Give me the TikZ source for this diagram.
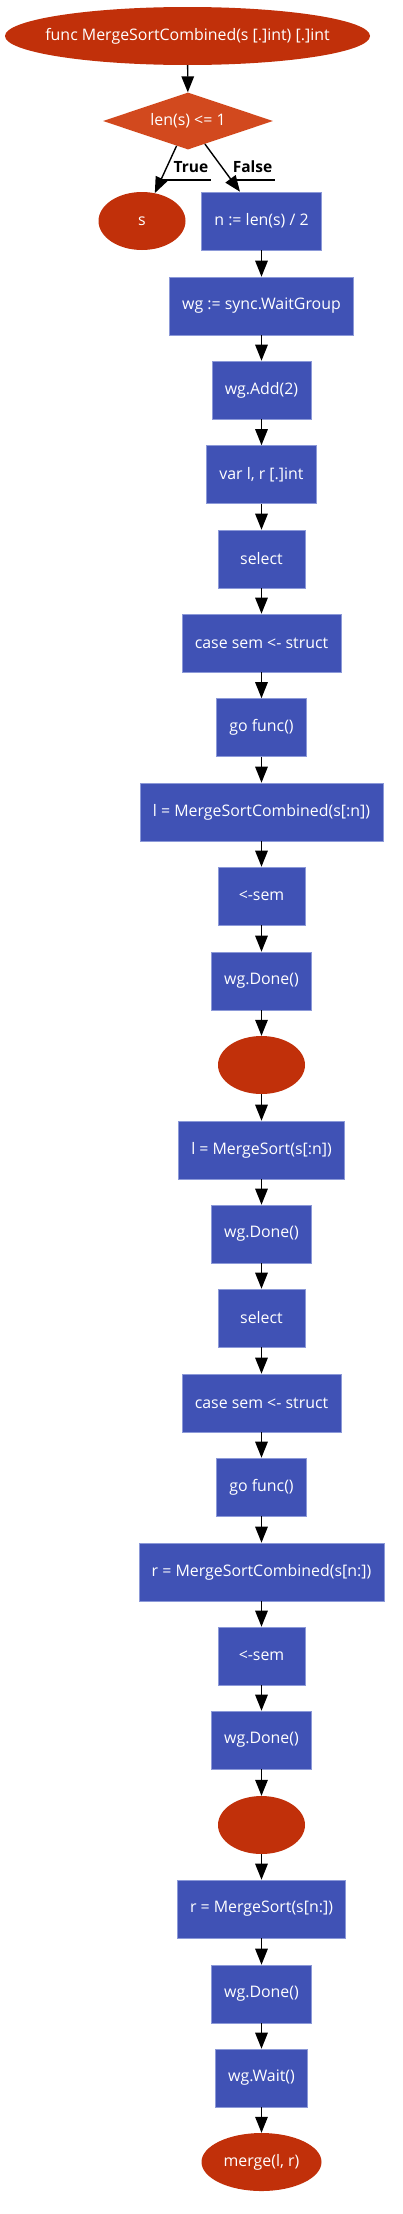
\documentclass[tikz,border=0pt]{standalone}
\usepackage{fontspec}
\setmainfont{Open Sans}
\usetikzlibrary{shapes.geometric,arrows.meta}
\definecolor{endred}{HTML}{C1300A}
\definecolor{condred}{HTML}{D2491E}
\definecolor{stepblue}{HTML}{4052B5}
\definecolor{stepline}{HTML}{8C99D8}

\begin{document}
\begin{tikzpicture}[x=1pt,y=-1pt,font=\fontsize{15.9}{18}\selectfont,
  stepbox/.style={rectangle,fill=stepblue,draw=stepline,line width=0.6pt,text=white,minimum width=87pt,minimum height=58pt,inner xsep=12.75pt},
  endnode/.style={ellipse,fill=endred,text=white,minimum width=87pt,minimum height=58pt,inner sep=0pt},
  condnode/.style={diamond,fill=condred,text=white,minimum width=170pt,minimum height=57pt,inner sep=0pt,aspect=3},
  arr/.style={-{Triangle[length=16pt,width=12.5pt]},line width=1.4pt,black},
  edgelab/.style={font=\fontsize{15.5}{18}\selectfont\bfseries,inner sep=2.5pt}]
\useasboundingbox (0,0) rectangle (403,2214);
\node (top) at (187.5,36) [endnode,inner xsep=-13.6pt,minimum width=365pt]{func MergeSortCombined(s [.]int) [.]int};
\node (cond) at (188,121) [condnode]{len(s) <= 1};
\node (ret) at (142,221) [endnode]{s};
\node (half) at (261.5,221) [stepbox]{n := len(s) / 2};
\node (wg) at (261.5,306) [stepbox]{wg := sync.WaitGroup};
\node (add) at (261.5,390) [stepbox]{wg.Add(2)};
\node (vars) at (261.5,474.5) [stepbox]{var l, r [.]int};
\node (selA) at (261.5,559) [stepbox]{select};
\node (caseA) at (261.5,643) [stepbox]{case sem <- struct};
\node (goA) at (261.5,727.5) [stepbox]{go func()};
\node (lcomb) at (261.5,812) [stepbox]{l = MergeSortCombined(s[:n])};
\node (semA) at (261.5,896) [stepbox]{<-sem};
\node (doneA) at (261.5,981) [stepbox]{wg.Done()};
\node (joinA) at (261.5,1065) [endnode]{};
\node (lsort) at (261.5,1150) [stepbox]{l = MergeSort(s[:n])};
\node (doneB) at (261.5,1234) [stepbox]{wg.Done()};
\node (selB) at (261.5,1318) [stepbox]{select};
\node (caseB) at (261.5,1403) [stepbox]{case sem <- struct};
\node (goB) at (261.5,1487) [stepbox]{go func()};
\node (rcomb) at (261.5,1572) [stepbox]{r = MergeSortCombined(s[n:])};
\node (semB) at (261.5,1656) [stepbox]{<-sem};
\node (doneC) at (261.5,1740) [stepbox]{wg.Done()};
\node (joinB) at (261.5,1825) [endnode]{};
\node (rsort) at (261.5,1909) [stepbox]{r = MergeSort(s[n:])};
\node (doneD) at (261.5,1994) [stepbox]{wg.Done()};
\node (wait) at (261.5,2078) [stepbox]{wg.Wait()};
\node (merge) at (261.5,2162) [endnode,minimum width=120pt]{merge(l, r)};
% branch
\draw [arr](top)--(cond);
\draw [arr](cond)--(ret);
\draw [arr](cond)--(half);
\path (cond.center)--(ret.center) coordinate[pos=0.59](tcut);
\path (cond.center)--(half.center) coordinate[pos=0.59](fcut);
\node (ttrue) at (191,167) [edgelab]{True};
\node (tfalse) at (252.5,167) [edgelab]{False};
\draw [line width=1.2pt](tcut)--(tcut-|ttrue.east);
\draw [line width=1.2pt](fcut)--(fcut-|tfalse.east);
% main chain
\draw [arr](half)--(wg);
\draw [arr](wg)--(add);
\draw [arr](add)--(vars);
\draw [arr](vars)--(selA);
\draw [arr](selA)--(caseA);
\draw [arr](caseA)--(goA);
\draw [arr](goA)--(lcomb);
\draw [arr](lcomb)--(semA);
\draw [arr](semA)--(doneA);
\draw [arr](doneA)--(joinA);
\draw [arr](joinA)--(lsort);
\draw [arr](lsort)--(doneB);
\draw [arr](doneB)--(selB);
\draw [arr](selB)--(caseB);
\draw [arr](caseB)--(goB);
\draw [arr](goB)--(rcomb);
\draw [arr](rcomb)--(semB);
\draw [arr](semB)--(doneC);
\draw [arr](doneC)--(joinB);
\draw [arr](joinB)--(rsort);
\draw [arr](rsort)--(doneD);
\draw [arr](doneD)--(wait);
\draw [arr](wait)--(merge);
\end{tikzpicture}
\end{document}
